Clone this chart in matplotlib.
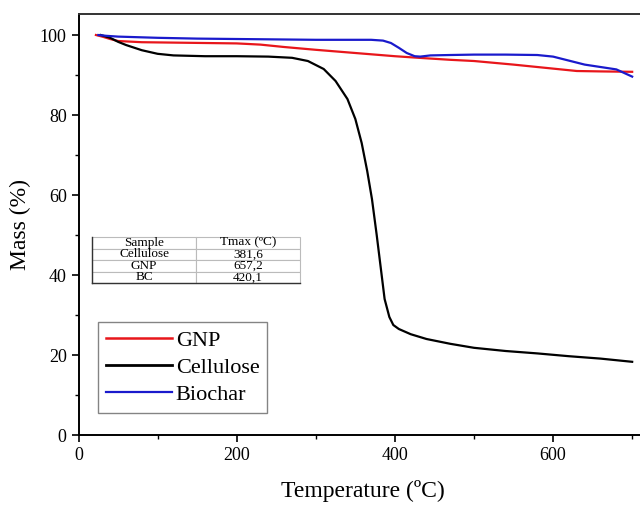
import matplotlib
matplotlib.use("Agg")
import matplotlib.pyplot as plt
from matplotlib.lines import Line2D
from matplotlib.ticker import MultipleLocator

# --- data ---
gnp_T = [22, 30, 40, 50, 80, 120, 160, 200, 230, 260, 300, 350, 400, 430, 470, 500, 550, 600, 630, 660, 700]
gnp_m = [100, 99.6, 99.0, 98.5, 98.2, 98.1, 98.0, 97.9, 97.6, 97.0, 96.3, 95.5, 94.7, 94.3, 93.8, 93.5, 92.6, 91.6, 91.0, 90.9, 90.8]

cel_T = [28, 40, 50, 60, 80, 100, 120, 160, 200, 240, 270, 290, 310, 325, 340, 350, 358, 365, 371, 377, 382, 387, 393, 398, 405, 420, 440, 470, 500, 540, 580, 620, 660, 700]
cel_m = [100, 99.3, 98.3, 97.5, 96.2, 95.3, 94.9, 94.7, 94.7, 94.6, 94.3, 93.5, 91.5, 88.5, 84.0, 79.0, 73.0, 66.0, 59.0, 50.0, 42.0, 34.0, 29.5, 27.5, 26.5, 25.2, 24.0, 22.8, 21.8, 21.0, 20.4, 19.7, 19.1, 18.3]

bio_T = [25, 35, 50, 100, 150, 200, 250, 300, 340, 370, 385, 395, 405, 415, 425, 432, 445, 470, 500, 540, 580, 600, 620, 640, 660, 680, 700]
bio_m = [100, 99.8, 99.6, 99.3, 99.1, 99.0, 98.9, 98.8, 98.8, 98.8, 98.6, 98.0, 96.8, 95.5, 94.7, 94.6, 94.9, 95.0, 95.1, 95.1, 95.0, 94.6, 93.6, 92.6, 92.0, 91.4, 89.6]

table_cols = ["Sample", "Tmax (ºC)"]
table_rows = [["Cellulose", "381,6"], ["GNP", "657,2"], ["BC", "420,1"]]

x_ticks = [0, 200, 400, 600]
y_ticks = [0, 20, 40, 60, 80, 100]

plt.rcParams['font.family'] = ['Liberation Serif', 'DejaVu Serif']

fig = plt.figure(figsize=(6.4, 5.17), dpi=100)
ax = fig.add_axes([0.1227, 0.1586, 0.8773 + 0.01, 0.8143])

ax.plot(gnp_T, gnp_m, color='#e8161b', lw=1.6)
ax.plot(cel_T, cel_m, color='black', lw=1.6)
ax.plot(bio_T, bio_m, color='#1a1acc', lw=1.6)

ax.set_xlim(0, 718)
ax.set_ylim(0, 105.25)
ax.set_xticks(x_ticks)
ax.set_yticks(y_ticks)
ax.xaxis.set_minor_locator(MultipleLocator(100))
ax.yaxis.set_minor_locator(MultipleLocator(10))
ax.tick_params(which='major', direction='out', length=5, width=1.2, labelsize=13)
ax.tick_params(which='minor', direction='out', length=3, width=1.0)
for s in ax.spines.values():
    s.set_linewidth(1.4)
ax.spines['top'].set_color('#333333')

ax.set_xlabel('Temperature (ºC)', fontsize=17, labelpad=12)
ax.set_ylabel('Mass (%)', fontsize=17, labelpad=6)

# table
tx0 = (92 - 78.5) / 0.791 / 718
tx1 = (300 - 78.5) / 0.791 / 718
ty0 = (435 - 283) / 4 / 105.25
ty1 = (435 - 237) / 4 / 105.25
tb = ax.table(cellText=table_rows, colLabels=table_cols, cellLoc='center',
              bbox=[tx0, ty0, tx1 - tx0, ty1 - ty0])
tb.auto_set_font_size(False)
for (r, c), cell in tb.get_celld().items():
    cell.set_fontsize(9.5)
    cell.set_edgecolor('#bbbbbb')
    cell.set_linewidth(0.8)
ax.plot([tx0, tx0], [ty0, ty1], transform=ax.transAxes, color='#333333', lw=1.0, clip_on=False)
ax.plot([tx0, tx1], [ty0, ty0], transform=ax.transAxes, color='#333333', lw=1.0, clip_on=False)

handles = [Line2D([], [], color='#e8161b', lw=1.8),
           Line2D([], [], color='black', lw=2.0),
           Line2D([], [], color='#1a1acc', lw=1.6)]
leg = ax.legend(handles, ['GNP', 'Cellulose', 'Biochar'], loc='lower left',
                bbox_to_anchor=((98 - 78.5) / 0.791 / 718, (435 - 413) / 4 / 105.25),
                fontsize=16, frameon=True, fancybox=False, handlelength=3.0,
                handletextpad=0.15, borderpad=0.35, labelspacing=0.3,
                borderaxespad=0)
leg.get_frame().set_edgecolor('#666666')
leg.get_frame().set_linewidth(1.0)

fig.savefig('out.png', dpi=100)
